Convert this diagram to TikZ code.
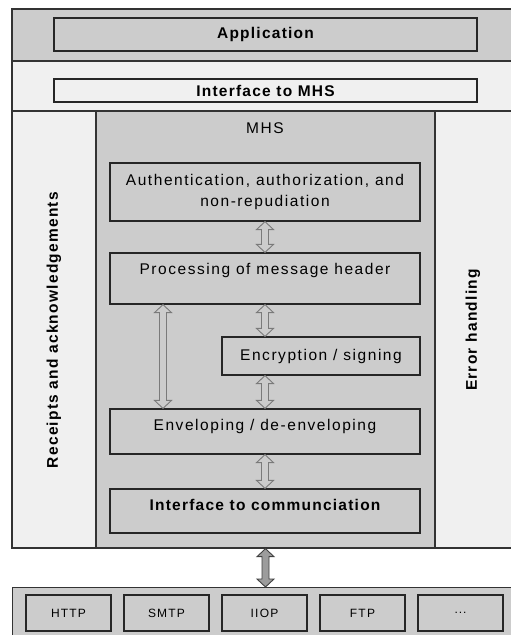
\documentclass[tikz,border=0pt]{standalone}
\usepackage{fontspec}
\setmainfont{Liberation Sans}[LetterSpace=10]
\usetikzlibrary{calc}
\definecolor{mhsgray}{HTML}{CCCCCC}
\definecolor{mhslight}{HTML}{F0F0F0}
\definecolor{arrowgray}{HTML}{7A7A7A}
\definecolor{arrowfill}{HTML}{9C9C9C}
\newcommand{\heavy}{\bfseries\addfontfeature{LetterSpace=8}}

\tikzset{
	band/.style={draw=black!80, line width=1.3pt},
	layer/.style={draw=black!85, line width=1.2pt, fill=mhsgray, inner sep=0pt,
		minimum width=310pt, minimum height=#1, align=center,
		font=\fontsize{15.5}{21.5}\selectfont},
	raised/.style={text height=11pt, text depth=#1},
	proto/.style={draw=black!85, line width=1.2pt, fill=mhsgray, inner sep=0pt,
		minimum width=85pt, minimum height=36pt, font=\fontsize{12}{14}\selectfont},
	side/.style={font=\fontsize{15.5}{18}\selectfont\heavy},
	% hollow double arrow between two stacked boxes
	dblarrow/.style={draw=arrowgray, fill=mhsgray, line width=0.9pt,
		to path={let \p1=(\tikztostart), \p2=(\tikztotarget) in
			(\x1,\y1) -- (\x1+8.5pt,\y1-8pt) -- (\x1+3.5pt,\y1-8pt) -- (\x1+3.5pt,\y2+8pt)
			-- (\x1+8.5pt,\y2+8pt) -- (\x1,\y2) -- (\x1-8.5pt,\y2+8pt) -- (\x1-3.5pt,\y2+8pt)
			-- (\x1-3.5pt,\y1-8pt) -- (\x1-8.5pt,\y1-8pt) -- cycle}},
	bigarrow/.style={dblarrow, draw=black!75, fill=arrowfill}
}

\begin{document}
\begin{tikzpicture}[x=1pt,y=-1pt]
	\clip (0,0) rectangle (511,635);
	\fill[white] (0,0) rectangle (511,635);

	% Bands
	\draw[band, fill=mhsgray] (12,9) rectangle (520,61);
	\draw[band, fill=mhslight] (12,61) rectangle (520,111);
	\draw[band, fill=mhslight] (12,111) rectangle (520,548);
	\node[band, fill=mhsgray, minimum width=339pt, minimum height=437pt, inner sep=0pt] (mhs) at (265.5,329.5) {};
	\node[band, fill=mhsgray, minimum width=508pt, minimum height=60pt, inner sep=0pt, anchor=north west] (carrier) at (12,587) {};

	% Top layers
	\node[layer=33pt, minimum width=423pt, font=\fontsize{15.5}{21.5}\selectfont\heavy] (app) at (265.5,34.5) {Application};
	\node[layer=23pt, minimum width=423pt, fill=mhslight, font=\fontsize{15.5}{21.5}\selectfont\heavy] (iface) at (265.5,90.5) {Interface to MHS};

	% MHS stack
	\node[font=\fontsize{15.5}{18}\selectfont] (mhslabel) at (265,128) {MHS};
	\node[layer=58pt] (auth) at (265,192) {Authentication, authorization, and\\non-repudiation};
	\node[layer=51pt, raised=19pt] (proc) at (265,278.5) {Processing of message header};
	\node[layer=38pt, minimum width=198pt] (enc) at (321,356) {Encryption / signing};
	\node[layer=45pt, raised=13pt] (env) at (265,431.5) {Enveloping / de-enveloping};
	\node[layer=44pt, raised=12pt, font=\fontsize{15.5}{21.5}\selectfont\heavy] (comm) at (265,511) {Interface to communciation};

	% Side columns
	\node[side, rotate=90] (rcpt) at (54,330) {Receipts and acknowledgements};
	\node[side, rotate=90] (err) at (473,330) {Error handling};

	% Arrows
	\coordinate (bypass) at (163,0);
	\draw[dblarrow] (auth.south) to (proc.north);
	\draw[dblarrow] (proc.south) to (proc.south |- enc.north);
	\draw[dblarrow] (env.north |- enc.south) to (env.north);
	\draw[dblarrow] (env.south) to (comm.north);
	\draw[dblarrow] (proc.south -| bypass) to (env.north -| bypass);
	\draw[bigarrow] (mhs.south) to (mhs.south |- carrier.north);

	% Transport protocols
	\foreach \name/\txt [count=\i] in {http/HTTP, smtp/SMTP, iiop/IIOP, ftp/FTP, more/{.\kern1pt.\kern1pt.}}
		\node[proto] (\name) at ({68.5+98*(\i-1)},613) {\txt};
\end{tikzpicture}
\end{document}
